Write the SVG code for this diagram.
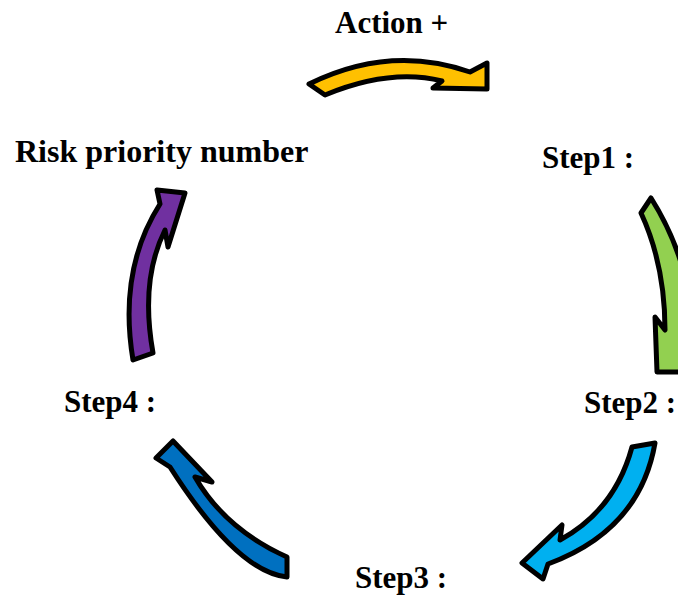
<svg xmlns="http://www.w3.org/2000/svg" width="678" height="599" viewBox="0 0 678 599">
<style>
.lbl{font-family:"Liberation Serif","Times New Roman",serif;font-weight:bold;font-size:31px;fill:#000}
.arr{stroke:#000;stroke-width:5;stroke-linejoin:round}
</style>
<rect width="678" height="599" fill="#fff"/>
<g id="connectors">
<path id="a-yellow" class="arr" fill="#FFC000" d="M 309,84 Q 390,44 470,72 L 487,63 L 487,89 L 433,88 L 442,81 Q 390,68 325,95 Z"/>
<path id="a-green" class="arr" fill="#92D050" d="M 641,213 L 651,198 Q 690,260 692,330 L 700,330 L 685,372 L 657,372 L 655,317 L 665,330 Q 665,265 641,213 Z"/>
<path id="a-lblue" class="arr" fill="#00B0F0" d="M 632,447 L 655,443 Q 640,530 548,564 L 543,579 L 522,563 L 562,525 L 560,540 Q 615,510 632,447 Z"/>
<path id="a-dblue" class="arr" fill="#0070C0" d="M 287,577 L 287,557 Q 225,529 195,477 L 212,482 L 173,441 L 156,458 L 170,467 Q 237,572 287,577 Z"/>
<path id="a-purple" class="arr" fill="#7030A0" d="M 133,360 Q 118,270 160,204 L 157,190 L 185,193 L 168,247 L 165,230 Q 140,280 153,353 Z"/>
</g>
<g id="action"><text class="lbl" x="335" y="33">Action +</text></g>
<g id="step1"><text class="lbl" x="542" y="168">Step1 :</text></g>
<g id="risk"><text class="lbl" x="15" y="162" style="font-size:32px">Risk priority number</text></g>
<g id="step2"><text class="lbl" x="584" y="413">Step2 :</text></g>
<g id="step3"><text class="lbl" x="355" y="588">Step3 :</text></g>
<g id="step4"><text class="lbl" x="64" y="412">Step4 :</text></g>
</svg>
